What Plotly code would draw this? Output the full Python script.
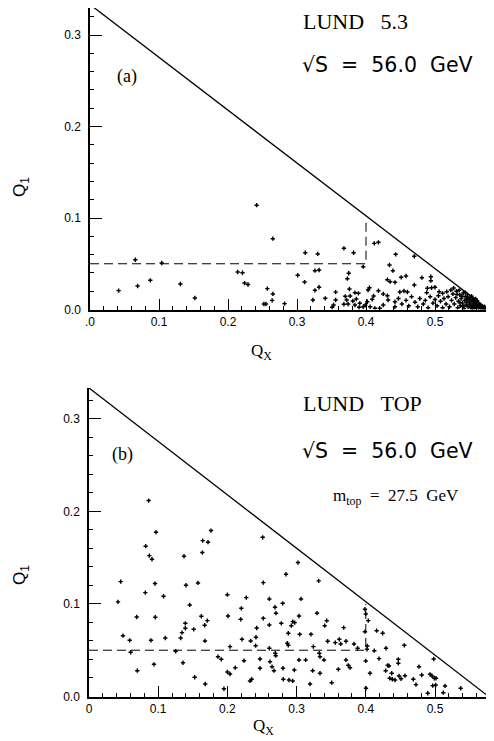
import plotly.graph_objects as go

# ---------------- data ----------------
# Panel (a): LUND 5.3
qa_x = [0.0415, 0.0657, 0.069, 0.0874, 0.104, 0.131, 0.152, 0.214, 0.221, 0.224, 0.229,
        0.2415, 0.265, 0.257, 0.265, 0.264, 0.252, 0.255, 0.282, 0.301, 0.312, 0.311,
        0.330, 0.326, 0.332, 0.326, 0.332, 0.323, 0.341, 0.356, 0.356, 0.353, 0.351,
        0.368, 0.382, 0.396, 0.375, 0.373, 0.376, 0.370, 0.377, 0.384, 0.389, 0.372,
        0.368, 0.374, 0.381, 0.386, 0.384, 0.391, 0.390, 0.396, 0.399,
        0.412, 0.418, 0.443, 0.470, 0.434, 0.439, 0.431, 0.435, 0.442, 0.451, 0.458,
        0.481, 0.494, 0.494, 0.405, 0.403, 0.418, 0.411, 0.409, 0.425, 0.431, 0.432,
        0.449, 0.455, 0.460, 0.470, 0.489, 0.495, 0.500, 0.488, 0.506, 0.511, 0.517,
        0.523, 0.402, 0.406, 0.413, 0.420, 0.425, 0.442, 0.442,
        0.447, 0.452, 0.458, 0.462, 0.466, 0.471, 0.475, 0.478, 0.483, 0.486, 0.490,
        0.493, 0.497, 0.500, 0.503, 0.505, 0.508, 0.511, 0.513, 0.516, 0.519, 0.521,
        0.524, 0.526,
        0.528, 0.530, 0.531, 0.533, 0.534, 0.536, 0.537, 0.538, 0.540, 0.541, 0.542,
        0.543, 0.544, 0.545, 0.546, 0.547, 0.548, 0.549, 0.550, 0.551, 0.552, 0.552,
        0.553, 0.554, 0.555, 0.556, 0.556, 0.557, 0.558, 0.558, 0.559, 0.560, 0.560,
        0.561, 0.562, 0.563, 0.563, 0.564, 0.565, 0.566, 0.566, 0.567, 0.568, 0.569,
        0.570, 0.571, 0.572, 0.573, 0.574, 0.535, 0.539, 0.544, 0.548, 0.553, 0.557,
        0.561, 0.527, 0.532, 0.536, 0.541, 0.546, 0.551, 0.554, 0.559]
qa_y = [0.0206, 0.0544, 0.0257, 0.0319, 0.0508, 0.0279, 0.0126, 0.041, 0.0402, 0.0289, 0.0273,
        0.114, 0.0774, 0.0228, 0.017, 0.010, 0.006, 0.006, 0.0064, 0.0374, 0.062, 0.030,
        0.0607, 0.0424, 0.0432, 0.021, 0.0243, 0.0104, 0.0122, 0.019, 0.0104, 0.0049, 0.0024,
        0.0669, 0.062, 0.0468, 0.0396, 0.0337, 0.0224, 0.0144, 0.0148, 0.0184, 0.0177, 0.0104,
        0.0057, 0.006, 0.0093, 0.0115, 0.0049, 0.0068, 0.0024, 0.003, 0.0049,
        0.0723, 0.0734, 0.0603, 0.0581, 0.0486, 0.0424, 0.0326, 0.0304, 0.0297, 0.0352, 0.0366,
        0.0348, 0.0358, 0.0315, 0.0238, 0.0213, 0.0205, 0.0148, 0.0111, 0.017, 0.0151, 0.0104,
        0.0191, 0.0202, 0.0191, 0.0268, 0.0232, 0.0238, 0.0243, 0.0184, 0.0195, 0.0177, 0.0195,
        0.0213, 0.0085, 0.003, 0.0013, 0.0013, 0.0049, 0.003, 0.0085,
        0.012, 0.006, 0.010, 0.004, 0.014, 0.008, 0.003, 0.012, 0.006, 0.010, 0.002,
        0.014, 0.007, 0.011, 0.004, 0.015, 0.009, 0.002, 0.012, 0.006, 0.014, 0.003,
        0.010, 0.017,
        0.006, 0.013, 0.020, 0.002, 0.009, 0.016, 0.004, 0.012, 0.007, 0.018, 0.001,
        0.010, 0.014, 0.005, 0.008, 0.016, 0.003, 0.011, 0.006, 0.013, 0.002, 0.009,
        0.004, 0.011, 0.007, 0.001, 0.009, 0.005, 0.003, 0.008, 0.006, 0.002, 0.0085,
        0.004, 0.006, 0.002, 0.0045, 0.003, 0.0055, 0.001, 0.004, 0.0025, 0.0035, 0.001,
        0.002, 0.0015, 0.003, 0.001, 0.0015, 0.021, 0.0145, 0.0185, 0.0125, 0.0145, 0.011,
        0.0095, 0.0235, 0.0165, 0.0075, 0.0035, 0.0105, 0.0035, 0.0015, 0.0115]

# Panel (b): LUND TOP
qb_x = [0.0862, 0.0968, 0.0819, 0.0872, 0.091, 0.1373, 0.1763, 0.1643, 0.172, 0.1638,
        0.0458, 0.0814, 0.0954, 0.1077, 0.1402, 0.1575, 0.1455, 0.0419, 0.0689, 0.0958,
        0.1392, 0.1392, 0.1623, 0.171, 0.1672, 0.1513, 0.1344, 0.1325, 0.1676, 0.0491,
        0.0588, 0.0896, 0.1103, 0.0602, 0.1253, 0.1864, 0.1912, 0.0939, 0.1358, 0.0698,
        0.1527, 0.168, 0.195, 0.2, 0.2009, 0.2,
        0.251, 0.302, 0.2847, 0.2519, 0.3319, 0.2273, 0.2201, 0.2606, 0.3064, 0.2688,
        0.2799, 0.2702, 0.3035, 0.3295, 0.2192, 0.2519, 0.2606, 0.2779, 0.2924, 0.2944,
        0.2973, 0.2423, 0.288, 0.3045, 0.3208, 0.3406, 0.3435, 0.3681, 0.2413, 0.2211,
        0.2336, 0.2408, 0.2038, 0.2866, 0.288, 0.2606, 0.3449, 0.3559, 0.3617, 0.3637,
        0.3714, 0.383, 0.3242, 0.2692, 0.2698, 0.3328, 0.3338, 0.224, 0.2471, 0.2616,
        0.3035, 0.3131, 0.3396, 0.3714, 0.2645, 0.2673, 0.2471, 0.2114, 0.2038, 0.2803,
        0.2967, 0.3232, 0.3338, 0.3603, 0.3747, 0.3772, 0.2351, 0.2327, 0.2808, 0.289,
        0.2944, 0.3194, 0.3507,
        0.3988, 0.3999, 0.4036, 0.3988, 0.4157, 0.4244, 0.3882, 0.4022, 0.4017, 0.4123,
        0.4292, 0.4557, 0.3999, 0.4191, 0.4061, 0.4287, 0.4316, 0.4335, 0.447, 0.447,
        0.4374, 0.4345, 0.4383, 0.4422, 0.448, 0.4509, 0.4566, 0.4687, 0.4725, 0.4769,
        0.4808, 0.4981, 0.4928, 0.4957, 0.499, 0.5014, 0.4967, 0.501, 0.5145, 0.4895,
        0.512, 0.5371, 0.4003]
qb_y = [0.2117, 0.1775, 0.1624, 0.1522, 0.1483, 0.1515, 0.1793, 0.1684, 0.1667, 0.1555,
        0.1241, 0.1122, 0.122, 0.1083, 0.1202, 0.1227, 0.0989, 0.1022, 0.0859, 0.0856,
        0.0791, 0.0737, 0.0867, 0.082, 0.077, 0.0726, 0.069, 0.0632, 0.06, 0.0657,
        0.0607, 0.0607, 0.0632, 0.0478, 0.0489, 0.043, 0.0402, 0.0348, 0.0365, 0.0279,
        0.0208, 0.0135, 0.0084, 0.11, 0.087, 0.0265,
        0.172, 0.1447, 0.1321, 0.123, 0.1249, 0.1068, 0.0953, 0.1054, 0.1054, 0.0964,
        0.1007, 0.09, 0.087, 0.09, 0.0834, 0.0845, 0.0773, 0.0791, 0.0765, 0.0809,
        0.0798, 0.074, 0.0683, 0.0672, 0.0672, 0.0765, 0.0819, 0.0744, 0.064, 0.0618,
        0.06, 0.0549, 0.0539, 0.0575, 0.0553, 0.0521, 0.0597, 0.0582, 0.0618, 0.0568,
        0.0597, 0.0568, 0.0539, 0.0467, 0.0441, 0.0467, 0.043, 0.0387, 0.0405, 0.0376,
        0.0395, 0.0395, 0.0395, 0.0395, 0.0322, 0.0279, 0.0305, 0.0311, 0.0243, 0.0305,
        0.0286, 0.0279, 0.0251, 0.0294, 0.0337, 0.0311, 0.0186, 0.0168, 0.0186, 0.0178,
        0.0168, 0.0135, 0.0149,
        0.0943, 0.0892, 0.082, 0.07, 0.0711, 0.0683, 0.0521, 0.0546, 0.051, 0.0495,
        0.0521, 0.0553, 0.0384, 0.0409, 0.0251, 0.0279, 0.0337, 0.033, 0.0402, 0.0359,
        0.0251, 0.0197, 0.0186, 0.0178, 0.0222, 0.0192, 0.0225, 0.0186, 0.0128, 0.0322,
        0.0232, 0.0405, 0.024, 0.0222, 0.0197, 0.0197, 0.0117, 0.0124, 0.0114, 0.0035,
        0.0041, 0.0089, 0.0089]

# kinematic boundary and cut lines
boundary_x = [0.0, 0.57735]
boundary_y = [0.33333, 0.0]
cut_x = [0.0, 0.4, 0.4]
cut_y = [0.05, 0.05, 0.1]

x_tickvals = [0, 0.1, 0.2, 0.3, 0.4, 0.5]
xa_ticktext = [".0", "0.1", "0.2", "0.3", "0.4", "0.5"]
xb_ticktext = ["0", "0.1", "0.2", "0.3", "0.4", "0.5"]
y_tickvals = [0, 0.1, 0.2, 0.3]
y_ticktext = ["0.0", "0.1", "0.2", "0.3"]

# ---------------- figure ----------------
# the page body has an 8px margin, so the figure is 8px smaller and offset by 8px
OFF = 8
W, H = 494 - OFF, 741 - OFF
def fx(p): return (p - OFF) / W
def fy(p): return 1 - (p - OFF) / H

fig = go.Figure()
panels = [("x", "y", qa_x, qa_y), ("x2", "y2", qb_x, qb_y)]
for xr, yr, px, py in panels:
    fig.add_trace(go.Scatter(x=boundary_x, y=boundary_y, mode="lines", xaxis=xr, yaxis=yr,
                             line=dict(color="black", width=1.3), showlegend=False, hoverinfo="skip"))
    fig.add_trace(go.Scatter(x=cut_x, y=cut_y, mode="lines", xaxis=xr, yaxis=yr,
                             line=dict(color="black", width=1, dash="9px,5px"), showlegend=False,
                             hoverinfo="skip"))
    fig.add_trace(go.Scatter(x=px, y=py, mode="markers", xaxis=xr, yaxis=yr,
                             marker=dict(symbol="cross", size=3.6, color="black", line=dict(width=0)),
                             showlegend=False))

tickfont = dict(family="Liberation Sans, Arial, sans-serif", size=12, color="black")
def xaxis(domain, rng, ticktext, anchor):
    return dict(domain=domain, range=rng, anchor=anchor, showgrid=False, zeroline=False,
                automargin=False,
                showline=True, linecolor="black", linewidth=1.5, mirror=False,
                tickmode="array", tickvals=x_tickvals, ticktext=ticktext,
                ticks="inside", ticklen=11, tickwidth=1, tickcolor="black",
                minor=dict(dtick=0.02, tick0=0, ticks="inside", ticklen=4, tickcolor="black", tickwidth=1),
                tickfont=tickfont)
def yaxis(domain, anchor):
    return dict(domain=domain, range=[0, 0.3333], anchor=anchor, showgrid=False, zeroline=False,
                automargin=False,
                showline=True, linecolor="black", linewidth=1.5, mirror=False,
                tickmode="array", tickvals=y_tickvals, ticktext=y_ticktext,
                ticks="inside", ticklen=12, tickwidth=1, tickcolor="black",
                ticklabelstandoff=5,
                minor=dict(dtick=0.02, tick0=0, ticks="inside", ticklen=4, tickcolor="black", tickwidth=1),
                tickfont=tickfont)

fig.update_layout(
    width=W, height=H, margin=dict(l=0, r=0, t=0, b=0, autoexpand=False),
    paper_bgcolor="white", plot_bgcolor="white",
    xaxis=xaxis([fx(90), fx(490)], [0, 400 / 690], xa_ticktext, "y"),
    yaxis=yaxis([fy(309.5), fy(8.01)], "x"),
    xaxis2=xaxis([fx(89), fx(489)], [0, 400 / 692], xb_ticktext, "y2"),
    yaxis2=yaxis([fy(696.5), fy(388)], "x2"),
)
# keep panel (a) y scale consistent: top of axis at 4.5px would fall off the figure;
# adjust range so 0.3333 sits at ~4.5px while domain stops at the figure's top edge
fig.update_layout(yaxis_range=[0, (309.5 - 8.01) / 915])

serif = "Liberation Serif, DejaVu Serif, serif"
sans = "Liberation Sans, Arial, sans-serif"
wide = "DejaVu Sans, sans-serif"
NB = "\u00a0"
def ann(text, x, y, size, family=serif, angle=0, anchor="center"):
    fig.add_annotation(text=text, x=fx(x), y=fy(y), xref="paper", yref="paper",
                       showarrow=False, xanchor=anchor, yanchor="middle",
                       font=dict(family=family, size=size, color="black"), textangle=angle)

sqrt_line = "√S" + NB * 2 + "=" + NB * 2 + "56.0" + NB * 2 + "GeV"

ann("LUND" + NB * 3 + "5.3", 301, 21, 22, serif, anchor="left")
ann(sqrt_line, 300, 65, 20.5, wide, anchor="left")
ann("(a)", 127, 76, 18)
ann("Q<sub>1</sub>", 21, 187, 17, sans, -90)
ann("Q<sub>X</sub>", 261, 352, 17, serif)

ann("LUND" + NB * 3 + "TOP", 301, 403, 22, serif, anchor="left")
ann(sqrt_line, 300, 451, 20.5, wide, anchor="left")
ann("m<sub>top</sub>" + NB * 2 + "=" + NB * 2 + "27.5" + NB * 2 + "GeV", 331, 497, 17, serif, anchor="left")
ann("(b)", 122, 455, 18)
ann("Q<sub>1</sub>", 21, 575, 17, sans, -90)
ann("Q<sub>X</sub>", 263, 727, 17, serif)

fig.write_html("out.html")
